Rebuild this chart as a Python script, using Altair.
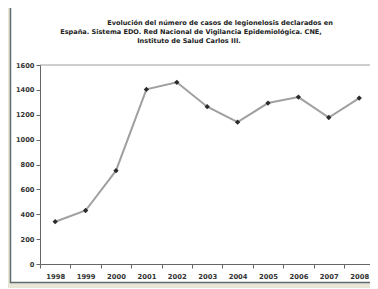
import altair as alt
import pandas as pd

years = [1998, 1999, 2000, 2001, 2002, 2003, 2004, 2005, 2006, 2007, 2008]
cases = [340, 430, 750, 1404, 1461, 1265, 1140, 1294, 1342, 1178, 1334]
y_ticks = [0, 200, 400, 600, 800, 1000, 1200, 1400, 1600]
title_lines = [
    "Evolución del número de casos de legionelosis declarados en",
    "España. Sistema EDO. Red Nacional de Vigilancia Epidemiológica. CNE,",
    "Instituto de Salud Carlos III.",
]
# category boundaries (Excel puts x ticks between categories)
x_bounds = [y - 0.5 for y in years]

df = pd.DataFrame({"year": years, "cases": cases})
one = pd.DataFrame({"k": [0]})

FONT = "DejaVu Sans"
W, H = 330, 199
step = 30.4

xscale = alt.Scale(domain=[1997.5, 1997.5 + W / step], nice=False, zero=False)
yscale = alt.Scale(domain=[0, 1600], nice=False)

y_axis = alt.Axis(values=y_ticks, format="d", title=None, grid=False,
                  tickSize=4, labelPadding=2, labelOverlap=False,
                  domainColor="#666", tickColor="#666",
                  labelFont=FONT, labelFontSize=6.7, labelFontWeight="bold",
                  labelColor="#333", zindex=1)

frame = alt.Chart(one).mark_rect(
    fill="white", stroke="#5f6b70", strokeWidth=1.5
).encode(
    x=alt.value(-29.5), x2=alt.value(420),
    y=alt.value(-60), y2=alt.value(217.5)
)

title_pos = [(180, -42.5), (151, -33.5), (149, -24.5)]
title_layers = [
    alt.Chart(one).mark_text(
        font=FONT, fontSize=6.55, fontWeight="bold", color="#222",
        align="center", baseline="middle"
    ).encode(x=alt.value(px), y=alt.value(py), text=alt.value(t))
    for t, (px, py) in zip(title_lines, title_pos)
]

top_rule = alt.Chart(one).mark_rule(color="#a0a0a0", strokeWidth=1.2).encode(
    y=alt.datum(1600, scale=yscale, axis=y_axis)
)

line = alt.Chart(df).mark_line(color="#a0a0a0", strokeWidth=2).encode(
    x=alt.X("year:Q", scale=xscale,
            axis=alt.Axis(values=years, format="d", title=None, grid=False,
                          ticks=False, domain=False, labelPadding=9,
                          labelOverlap=False, orient="bottom",
                          labelFont=FONT, labelFontSize=6.8, labelFontWeight="bold",
                          labelColor="#333", zindex=1)),
    y=alt.Y("cases:Q", scale=yscale, axis=y_axis),
)

points = alt.Chart(df).mark_point(
    shape="diamond", filled=True, color="#2b2b2b", size=28, opacity=1
).encode(
    x=alt.X("year:Q", scale=xscale,
            axis=alt.Axis(values=x_bounds, labels=False, title=None, grid=False,
                          tickSize=4, orient="bottom", domainColor="#666",
                          tickColor="#666", zindex=1)),
    y=alt.Y("cases:Q", scale=yscale, axis=y_axis),
)

chart = alt.layer(frame, *title_layers, top_rule, line, points).resolve_axis(
    x="independent"
).properties(
    width=W, height=H,
    autosize=alt.AutoSizeParams(type="none"),
    padding={"left": 32, "top": 57, "right": 0, "bottom": 24},
    background="#e8e6d6",
).configure_view(stroke=None).configure_axis(labelOverlap=False)

chart.save("out.html", embed_options={"renderer": "svg", "actions": False})
